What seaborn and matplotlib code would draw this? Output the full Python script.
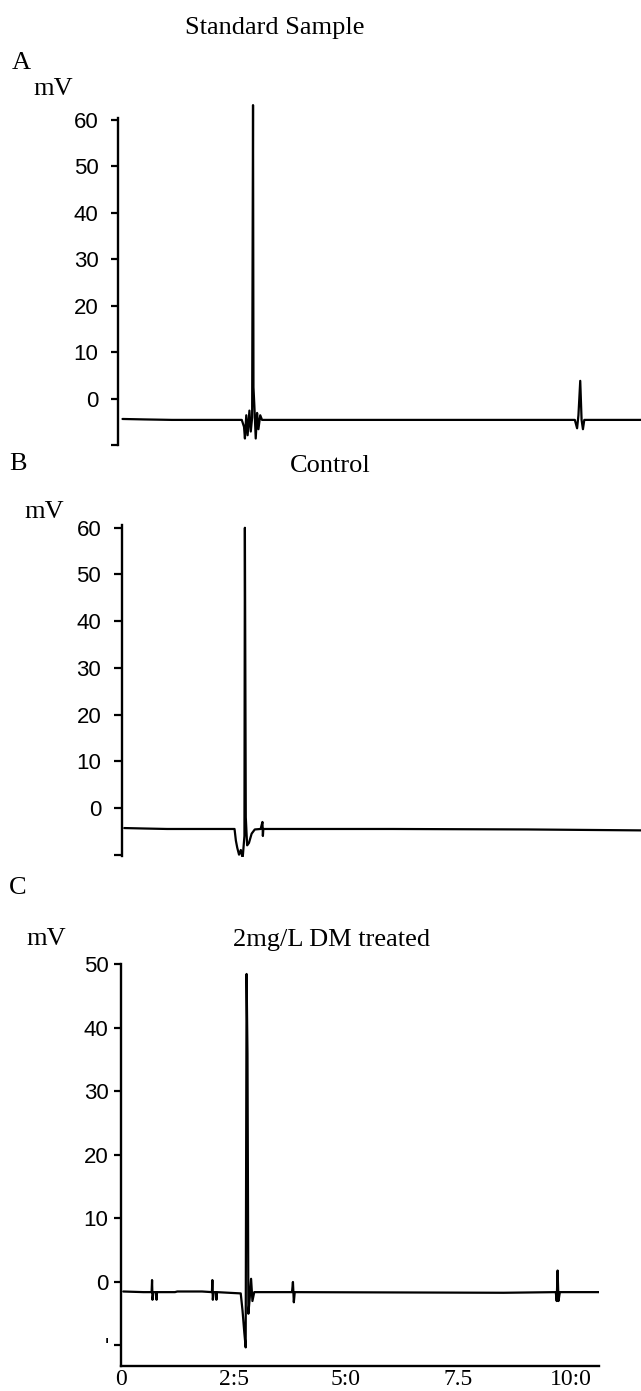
import matplotlib
matplotlib.use("Agg")
import matplotlib.pyplot as plt
import seaborn as sns
import pandas as pd

# ---------------- data ----------------
# Panel A: Standard Sample (time in min, signal in mV)
time_a = [0.10, 0.60, 1.20, 2.75, 2.80, 2.82, 2.85, 2.88, 2.92, 2.95, 2.98, 3.00, 3.01,
          3.03, 3.06, 3.09, 3.12, 3.16, 3.20, 10.15, 10.20, 10.23, 10.27, 10.30, 10.33,
          10.36, 11.62]
mv_a = [-4.3, -4.4, -4.5, -4.5, -6.0, -8.5, -3.5, -7.8, -2.5, -7.0, -4.0, 63.2, 2.5,
        -1.5, -8.5, -3.0, -6.5, -3.5, -4.5, -4.5, -6.3, -3.5, 3.9, -4.5, -6.5,
        -4.5, -4.5]

# Panel B: Control
time_b = [0.05, 0.50, 1.00, 2.50, 2.53, 2.56, 2.60, 2.64, 2.68, 2.72, 2.73, 2.75,
          2.78, 2.82, 2.88, 2.95, 3.08, 3.12, 3.13, 3.14, 3.20, 6.00, 9.00, 11.53]
mv_b = [-4.3, -4.4, -4.5, -4.5, -7.0, -8.5, -10.0, -9.0, -10.8, -6.0, 60.0, -2.0,
        -8.0, -7.5, -5.5, -4.6, -4.5, -3.0, -6.0, -4.5, -4.5, -4.5, -4.6, -4.8]

# Panel C: 2mg/L DM treated
time_c = [0.05, 0.50, 0.68, 0.69, 0.70, 0.72, 0.78, 0.79, 0.80, 1.20,
          1.25, 1.80, 2.02, 2.03, 2.04, 2.06, 2.11, 2.12, 2.13, 2.66,
          2.70, 2.74, 2.77, 2.79, 2.81, 2.83, 2.86, 2.89, 2.92, 2.96,
          3.80, 3.82, 3.84, 3.86, 8.50, 9.66, 9.68, 9.70, 9.72, 9.75,
          10.62]
mv_c = [-1.5, -1.6, -1.6, 0.3, -2.8, -1.6, -1.6, -2.8, -1.6, -1.6,
        -1.5, -1.5, -1.6, 0.3, -2.8, -1.6, -1.6, -2.8, -1.6, -1.8,
        -4.5, -8.0, -10.3, 48.5, 36.0, -5.0, -2.5, 0.5, -3.0, -1.6,
        -1.6, 0.0, -3.2, -1.6, -1.7, -1.6, -3.0, 1.8, -3.0, -1.6,
        -1.6]

titles = ["Standard Sample", "Control", "2mg/L DM treated"]
panel_letters = ["A", "B", "C"]
yticks_ab = [-10, 0, 10, 20, 30, 40, 50, 60]
yticklabels_ab = ["", "0", "10", "20", "30", "40", "50", "60"]
yticks_c = [-10, 0, 10, 20, 30, 40, 50]
yticklabels_c = ["'", "0", "10", "20", "30", "40", "50"]
xticks_c = [0, 2.5, 5.0, 7.5, 10.0]
xticklabels_c = ["0", "2:5", "5:0", "7.5", "10:0"]

# ---------------- figure ----------------
sns.set_style("white")
plt.rcParams['font.family'] = ['Liberation Sans', 'DejaVu Sans']
plt.rcParams['text.color'] = 'black'
plt.rcParams['xtick.color'] = 'black'
plt.rcParams['ytick.color'] = 'black'
plt.rcParams['axes.labelcolor'] = 'black'

W, H = 641, 1391
fig = plt.figure(figsize=(W / 100, H / 100), dpi=100)


def rect(l, t, r, b):
    return [l / W, 1 - b / H, (r - l) / W, (b - t) / H]


axA = fig.add_axes(rect(118, 101.4, 641, 447.8))
axB = fig.add_axes(rect(122, 523.1, 641, 857.0))
axC = fig.add_axes(rect(121, 958.1, 599, 1365.8))

lw = 1.6
for ax, t, v in [(axA, time_a, mv_a), (axB, time_b, mv_b), (axC, time_c, mv_c)]:
    df = pd.DataFrame({"time": t, "mV": v})
    sns.lineplot(data=df, x="time", y="mV", ax=ax, estimator=None, sort=False,
                 color="black", linewidth=lw)
    ax.set_xlabel("")
    ax.set_ylabel("")
    for s in ["top", "right"]:
        ax.spines[s].set_visible(False)
    ax.spines["left"].set_linewidth(1.7)
    ax.spines["left"].set_color("black")

# Panel A
axA.set_xlim(0, 11.62)
axA.set_ylim(-10.5, 64)
axA.spines["bottom"].set_visible(False)
axA.spines["left"].set_bounds(-10, 60.5)
axA.set_xticks([])
axA.set_yticks(yticks_ab)
axA.set_yticklabels(yticklabels_ab)
axA.tick_params(axis="y", direction="out", length=5, width=1.6, pad=9,
                labelsize=16, left=True, colors="black")

# Panel B
axB.set_xlim(0, 11.53)
axB.set_ylim(-10.5, 61)
axB.spines["bottom"].set_visible(False)
axB.spines["left"].set_bounds(-10.3, 60.5)
axB.set_xticks([])
axB.set_yticks(yticks_ab)
axB.set_yticklabels(yticklabels_ab)
axB.tick_params(axis="y", direction="out", length=6, width=1.6, pad=9,
                labelsize=16, left=True, colors="black")

# Panel C
axC.set_xlim(0, 10.62)
axC.set_ylim(-13.2, 51)
axC.spines["bottom"].set_linewidth(1.7)
axC.spines["bottom"].set_color("black")
axC.spines["left"].set_bounds(-13.2, 50)
axC.set_yticks(yticks_c)
axC.set_yticklabels(yticklabels_c)
axC.set_xticks(xticks_c)
axC.set_xticklabels(xticklabels_c)
axC.tick_params(axis="y", direction="out", length=5, width=1.6, pad=4,
                labelsize=16, left=True, colors="black")
axC.tick_params(axis="x", direction="out", length=0, pad=2, labelsize=17,
                bottom=True, colors="black")
for lab in axC.get_xticklabels():
    lab.set_fontfamily(['Liberation Serif', 'DejaVu Serif'])

# ---------------- texts ----------------
serif = ['Liberation Serif', 'DejaVu Serif']
fig.text(275 / W, 1 - 28 / H, titles[0], ha="center", va="center",
         fontsize=19, family=serif, color="black")
fig.text(330 / W, 1 - 466 / H, titles[1], ha="center", va="center",
         fontsize=19, family=serif, color="black")
fig.text(332 / W, 1 - 940 / H, titles[2], ha="center", va="center",
         fontsize=19, family=serif, color="black")

fig.text(21 / W, 1 - 63 / H, panel_letters[0], ha="center", va="center",
         fontsize=19, family=serif, color="black")
fig.text(18 / W, 1 - 464 / H, panel_letters[1], ha="center", va="center",
         fontsize=19, family=serif, color="black")
fig.text(18 / W, 1 - 888 / H, panel_letters[2], ha="center", va="center",
         fontsize=19, family=serif, color="black")

fig.text(53 / W, 1 - 89 / H, "mV", ha="center", va="center",
         fontsize=19, family=serif, color="black")
fig.text(44 / W, 1 - 512 / H, "mV", ha="center", va="center",
         fontsize=19, family=serif, color="black")
fig.text(46 / W, 1 - 939 / H, "mV", ha="center", va="center",
         fontsize=19, family=serif, color="black")

fig.savefig("out.png", dpi=100, facecolor="white")
